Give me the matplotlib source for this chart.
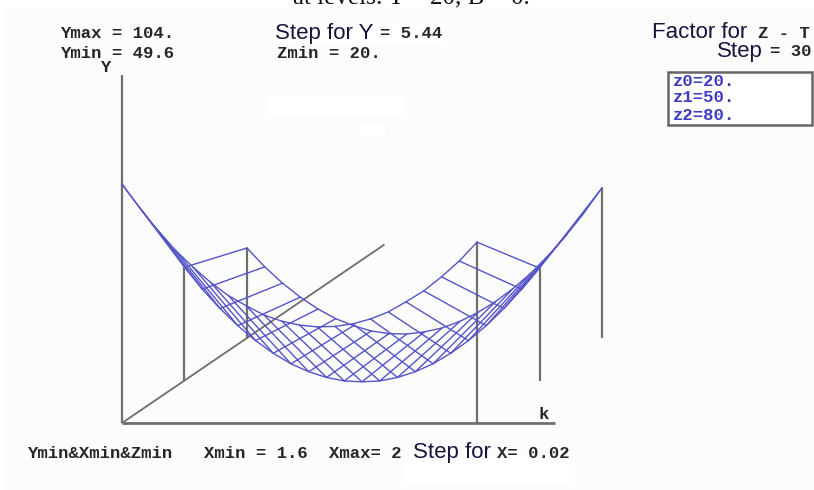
import matplotlib
matplotlib.use("Agg")
import matplotlib.pyplot as plt
from matplotlib.patches import Rectangle

# Surface, one curve per Z level, 21 values of k
k_values = [1.6 + 0.02 * i for i in range(21)]
z_levels = [20, 50, 80]
y_z0 = [104.0, 98.6, 93.6, 89.0, 85.1, 81.6, 78.6, 76.3, 74.2, 72.8, 71.9, 71.5, 71.6, 72.2, 73.3, 74.9, 77.2, 79.7, 82.9, 86.5, 90.8]
y_z1 = [75.4, 70.4, 66.0, 62.1, 58.7, 55.8, 53.4, 51.6, 50.3, 49.5, 49.3, 49.5, 50.3, 51.6, 53.4, 55.8, 58.7, 62.1, 66.0, 70.4, 75.2]
y_z2 = [70.1, 65.8, 62.1, 58.9, 56.2, 54.0, 52.4, 51.2, 50.6, 50.5, 51.0, 51.9, 53.4, 55.4, 57.9, 60.9, 64.4, 68.5, 73.1, 78.2, 83.8]
surface = [y_z0, y_z1, y_z2]

# Axis extents of the drawn box
k_min, k_max = 1.6, 2.0
y_min = 49.6
y_axis_top = 128.8
k_axis_end = 2.0878
z_axis_end = 146

WIDTH, HEIGHT = 814, 490
fig = plt.figure(figsize=(WIDTH / 100, HEIGHT / 100), dpi=100, facecolor="white")
ax = fig.add_axes([0, 0, 1, 1])
PX_K = 355 / (k_max - k_min)
PX_Y = 4.39
ORIGIN_X, ORIGIN_Y = 122, 423
ax.set_xlim(k_min - ORIGIN_X / PX_K, k_min + (WIDTH - ORIGIN_X) / PX_K)
ax.set_ylim(y_min - (HEIGHT - ORIGIN_Y) / PX_Y, y_min + ORIGIN_Y / PX_Y)
ax.axis("off")

Z_DK = 62.5 / PX_K
Z_DY = 42.5 / PX_Y

def proj(k, y, z):
    t = (z - z_levels[0]) / (z_levels[1] - z_levels[0])
    return k + t * Z_DK, y + t * Z_DY

AXIS = "#6e6e6e"
BLUE = "#5454c8"
TXT = "#262626"

# background tint and the white retouched patches
to_px = fig.transFigure
def patch(x, y, w, h, c):
    fig.add_artist(Rectangle((x / WIDTH, 1 - (y + h) / HEIGHT), w / WIDTH, h / HEIGHT,
                             transform=to_px, fc=c, ec="none", zorder=-5))
patch(5, 8, 809, 482, "#fcfcfc")
patch(268, 95, 135, 22, "#ffffff")
patch(360, 125, 25, 12, "#ffffff")
patch(405, 455, 170, 30, "#ffffff")
patch(272, 23, 172, 20, "#ffffff")

# axes of the box
def seg(a, b, lw=1.6, c=AXIS):
    p, q = proj(*a), proj(*b)
    ax.plot([p[0], q[0]], [p[1], q[1]], color=c, lw=lw, solid_capstyle="butt", zorder=2)

seg((k_min, y_min, 20), (k_min, y_axis_top, 20))
seg((k_min, y_min, 20), (k_axis_end, y_min, 20), lw=2)
seg((k_min, y_min, 20), (k_min, y_min, z_axis_end), lw=1.3)

# verticals at the corners of each Z level
for j, z in enumerate(z_levels):
    for k, y in ((k_min, surface[j][0]), (k_max, surface[j][-1])):
        if j == 0 and k == k_min:
            continue
        seg((k, y_min, z), (k, y, z), lw=1.6)

# wire mesh: curves at constant Z, then lines at constant k
for j, z in enumerate(z_levels):
    pts = [proj(k, y, z) for k, y in zip(k_values, surface[j])]
    ax.plot([p[0] for p in pts], [p[1] for p in pts], color=BLUE, lw=1.0, zorder=3)
for i, k in enumerate(k_values):
    pts = [proj(k, surface[j][i], z) for j, z in enumerate(z_levels)]
    ax.plot([p[0] for p in pts], [p[1] for p in pts], color=BLUE, lw=1.0, zorder=3)

# text, placed in pixels
def label(x, y, s, font="Liberation Mono", size=12.4, weight="bold", c=TXT, ha="left", va="center"):
    fig.text(x / WIDTH, 1 - y / HEIGHT, s, family=font, fontsize=size, fontweight=weight,
             color=c, ha=ha, va=va)

MONO = dict(font="Liberation Mono", size=12.4, weight="bold")
SANS = dict(font="Liberation Sans", size=16, weight="normal", c="#14143c")
label(60, 34, "Ymax = 104.", **MONO)
label(60, 53, "Ymin = 49.6", **MONO)
label(100, 68, "Y", **MONO)
label(275, 33, "Step for Y", **SANS)
label(380, 33, "= 5.44", **MONO)
label(277, 53, "Zmin = 20.", **MONO)
label(652, 33, "Factor for", **SANS)
label(758, 33, "Z - T", **MONO)
label(717, 52, "Step", **SANS)
label(770, 52, "= 30", **MONO)
label(539, 414, "k", **MONO)
label(27, 453, "Ymin&Xmin&Zmin", **MONO)
label(204, 453, "Xmin = 1.6", **MONO)
label(329, 453, "Xmax= 2", **MONO)
label(413, 452, "Step for", **SANS)
label(497, 453, "X= 0.02", **MONO)
label(411, 3, "at levels: T = 20, B = 0.", font="Liberation Serif", size=18, weight="normal",
      c="#111111", ha="center", va="baseline")

# legend box
fig.add_artist(Rectangle((668 / WIDTH, 1 - 125 / HEIGHT), 144 / WIDTH, 53 / HEIGHT, transform=to_px,
                         fc="white", ec="#666666", lw=1.8, zorder=1))
for y, s in zip((81, 98, 116), [f"z{n}={v}." for n, v in enumerate(z_levels)]):
    label(673, y, s, c="#3c3cc4")

fig.savefig("out.png", dpi=100)
